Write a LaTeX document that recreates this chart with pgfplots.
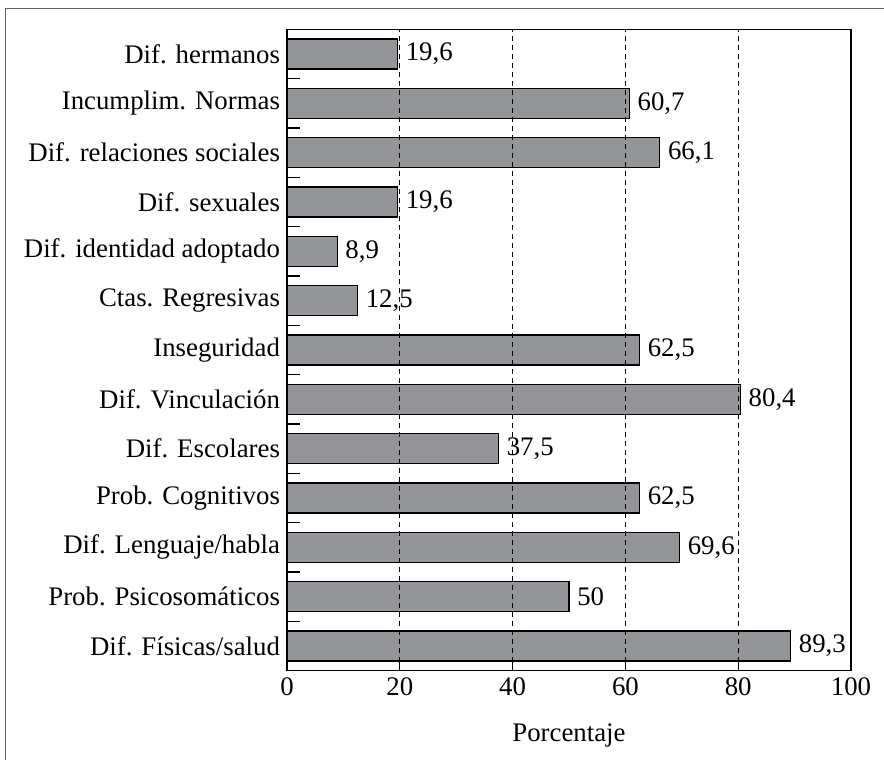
\documentclass[border=0pt]{standalone}
\usepackage{pgfplots}
\pgfplotsset{compat=1.18}
\usepackage{fontspec}
\setmainfont{Liberation Serif}
\definecolor{barfill}{RGB}{148,149,153}
\definecolor{framegray}{RGB}{100,100,100}

\begin{document}
\begin{tikzpicture}
\useasboundingbox (0,0) rectangle (442pt,380pt);
% marco exterior (solo se ven los lados izquierdo y superior)
\draw[framegray, line width=0.9pt] (2.75pt,-2pt) -- (2.75pt,375.75pt) -- (444pt,375.75pt);
\begin{axis}[
    at={(143.5pt,44.65pt)}, anchor=south west,
    scale only axis,
    width=282pt, height=320.7pt,
    xbar, bar width=0.61,
    xmin=0, xmax=100,
    ymin=-0.5, ymax=12.5,
    xtick={0,20,...,100},
    ytick={0,...,12},
    yticklabels={Dif. Físicas/salud, Prob. Psicosomáticos, Dif. Lenguaje/habla,
        Prob. Cognitivos, Dif. Escolares, Dif. Vinculación, Inseguridad,
        Ctas. Regresivas, Dif. identidad adoptado, Dif. sexuales,
        Dif. relaciones sociales, Incumplim. Normas, Dif. hermanos},
    minor ytick={-0.5,0.5,...,12.5},
    every major y tick/.append style={draw=none},
    major tick length=4.5pt,
    minor tick length=6.5pt,
    tick align=inside,
    xtick pos=bottom, ytick pos=left,
    xmajorgrids,
    grid style={black, line width=0.5pt, dash pattern=on 2.5pt off 2pt},
    axis line style={line width=0.6pt},
    tick style={black, line width=0.6pt},
    axis on top,
    /pgf/number format/assume math mode=true,
    /pgf/number format/use comma,
    /pgf/number format/fixed,
    /pgf/number format/precision=1,
    font=\fontsize{13.4}{15}\selectfont,
    ticklabel style={font=\fontsize{13.4}{15}\selectfont},
    xlabel={Porcentaje},
    xlabel style={yshift=-7pt},
    nodes near coords,
    nodes near coords style={font=\fontsize{13.4}{15}\selectfont, xshift=0.5pt},
]
\addplot[draw=black, line width=0.6pt, fill=barfill] coordinates {
    (89.3,0) (50,1) (69.6,2) (62.5,3) (37.5,4) (80.4,5) (62.5,6)
    (12.5,7) (8.9,8) (19.6,9) (66.1,10) (60.7,11) (19.6,12)
};
\end{axis}
\end{tikzpicture}
\end{document}
